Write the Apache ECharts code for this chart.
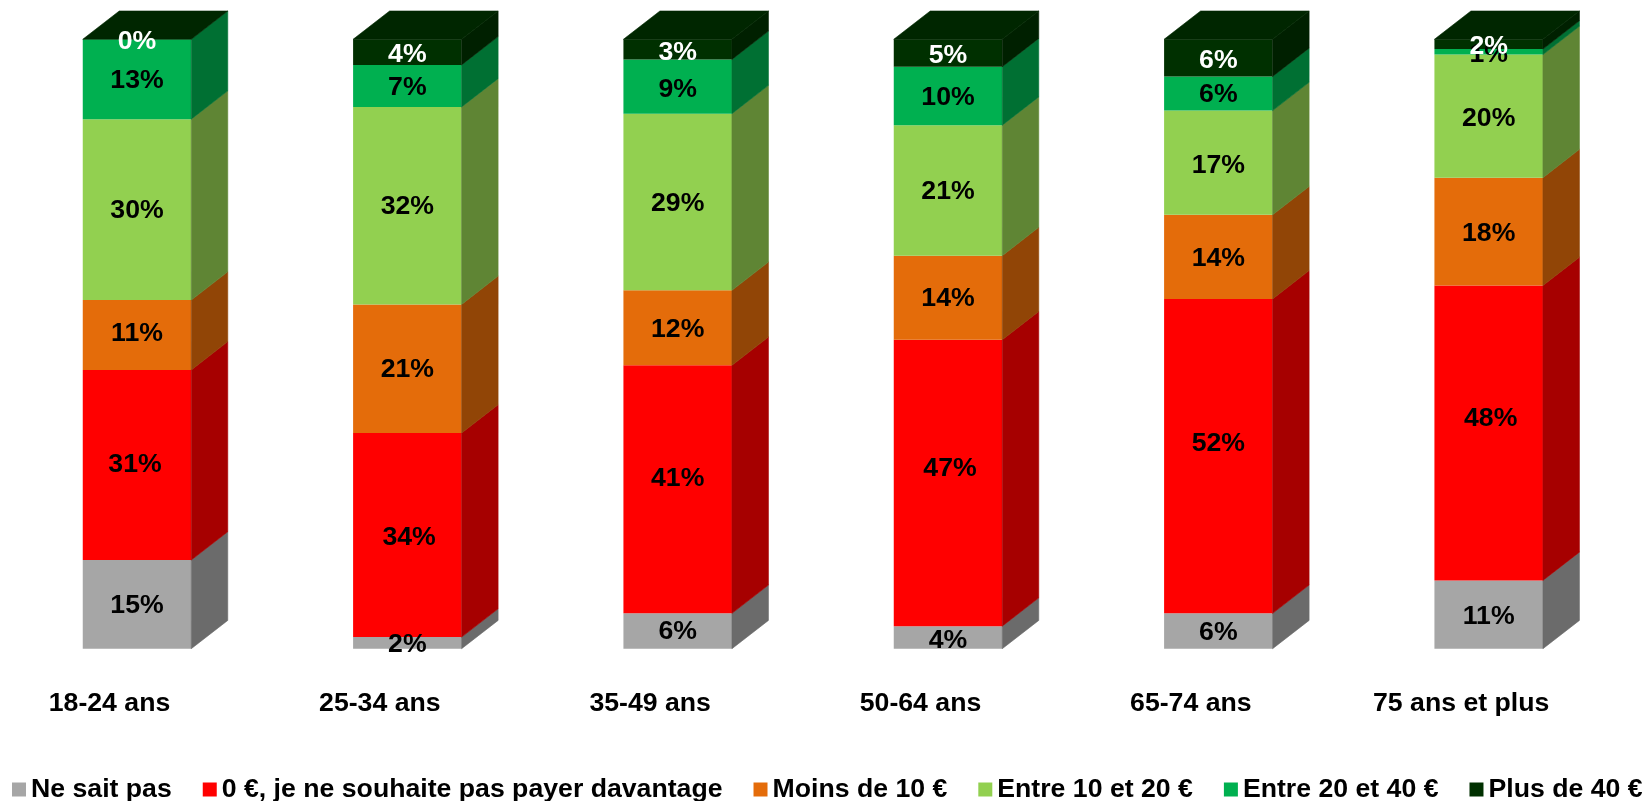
<!DOCTYPE html>
<html>
<head>
<meta charset="utf-8">
<style>html,body{margin:0;padding:0;background:#fff}#chart{width:1645px;height:801px}</style>
<script src="https://cdn.jsdelivr.net/npm/echarts@6/dist/echarts.min.js"></script>
</head>
<body>
<div id="chart"></div>
<script>
const categories = ['18-24 ans','25-34 ans','35-49 ans','50-64 ans','65-74 ans','75 ans et plus'];
const seriesNames = ['Ne sait pas','0 €, je ne souhaite pas payer davantage','Moins de 10 €','Entre 10 et 20 €','Entre 20 et 40 €','Plus de 40 €'];
const neSaitPas = [14.55, 1.9, 5.8, 3.7, 5.8, 11.2];
const zeroEuro  = [31.2, 33.5, 40.7, 47.0, 51.6, 48.4];
const moins10   = [11.45, 21.1, 12.3, 13.8, 13.8, 17.7];
const e10a20    = [29.7, 32.4, 29.0, 21.4, 17.1, 20.2];
const e20a40    = [13.1, 6.9, 8.9, 9.6, 5.6, 0.9];
const plus40    = [0, 4.2, 3.3, 4.5, 6.1, 1.6];
const seriesValues = [neSaitPas, zeroEuro, moins10, e10a20, e20a40, plus40];
const frontColors = ['#A6A6A6','#FF0000','#E46C0A','#92D050','#00B050','#003000'];
const sideColors  = ['#6B6B6B','#A60000','#914506','#5F8534','#007033','#002000'];
const topColor = '#002600';
const labelColors = ['#000','#000','#000','#000','#000','#fff'];
const FONT = '"Liberation Sans", Arial, sans-serif';
const DX = 36.5, DY = 28.3, BAR_RATIO = 0.4014;
// The original's data labels were hand-placed: pixel nudges per series, per category.
const labelNudgeY = [
  [0.9, 1.4, 0.5, 3.6, 1.3, 1.7],
  [0, 2.7, -11, -14, -12.8, -14.3],
  [-1, 0.6, 1.5, 1.2, 1.4, 1.7],
  [1.4, 1.3, 1.7, 1.6, 2.6, 2.2],
  [1.8, 1.8, 2.8, 2, 1.5, 2.5],
  [2.7, 2.2, 2.9, 2.3, 2.4, 2.8]
];
const labelNudgeX = [
  [0, 0, 0, 0, 0, 0],
  [-2, 1.8, 0, 2, 0, 2],
  [0, 0, 0, 0, 0, 0],
  [0, 0, 0, 0, 0, 0],
  [0, 0, 0, 0, 0, 0],
  [0, 0, 0, 0, 0, 0]
];

function renderBar(s) {
  return function (params, api) {
    const cat = api.value(0), lo = api.value(1), hi = api.value(2), value = api.value(3);
    const pLo = api.coord([cat, lo]), pHi = api.coord([cat, hi]);
    const w = api.size([1, 0])[0] * BAR_RATIO;
    const x0 = pLo[0] - w / 2, x1 = x0 + w;
    const children = [];
    if (value > 0) {
      children.push(
        { type: 'rect', shape: { x: x0, y: pHi[1], width: w, height: pLo[1] - pHi[1] }, style: { fill: frontColors[s], stroke: 'none', lineWidth: 0 } },
        { type: 'polygon', shape: { points: [[x1, pLo[1]], [x1 + DX, pLo[1] - DY], [x1 + DX, pHi[1] - DY], [x1, pHi[1]]] }, style: { fill: sideColors[s], stroke: sideColors[s], lineWidth: 0.6 } }
      );
    }
    if (s === seriesValues.length - 1) {
      children.push({ type: 'polygon', shape: { points: [[x0, pHi[1]], [x1, pHi[1]], [x1 + DX, pHi[1] - DY], [x0 + DX, pHi[1] - DY]] }, style: { fill: topColor, stroke: topColor, lineWidth: 0.6 } });
    }
    children.push({
      type: 'text', z2: 100 + s,
      style: { x: pLo[0] + labelNudgeX[s][cat], y: (pLo[1] + pHi[1]) / 2 + labelNudgeY[s][cat], text: Math.round(value) + '%', fill: labelColors[s],
               font: 'bold 26.67px ' + FONT, align: 'center', verticalAlign: 'middle' }
    });
    return { type: 'group', children };
  };
}

const series = seriesValues.map((vals, s) => ({
  type: 'custom',
  name: seriesNames[s],
  renderItem: renderBar(s),
  itemStyle: { color: frontColors[s] },
  encode: { x: 0, y: [1, 2] },
  data: vals.map((v, i) => {
    let base = 0;
    for (let k = 0; k < s; k++) base += seriesValues[k][i];
    return [i, base, base + v, v];
  })
}));

const chart = echarts.init(document.getElementById('chart'));
chart.setOption({
  animation: false,
  backgroundColor: '#fff',
  grid: { left: 1.85, width: 1622, top: 39.3, height: 609.4 },
  xAxis: {
    type: 'category', data: categories,
    axisLine: { show: false }, axisTick: { show: false },
    axisLabel: { color: '#000', fontFamily: FONT, fontWeight: 'bold', fontSize: 26.67, margin: 41, padding: [0, 55, 0, 0], interval: 0 }
  },
  yAxis: { type: 'value', min: 0, max: 100, show: false },
  legend: {
    left: 12, top: 776, padding: 0, icon: 'rect', itemWidth: 14, itemHeight: 14, itemGap: 31,
    data: seriesNames,
    textStyle: { color: '#000', fontFamily: FONT, fontWeight: 'bold', fontSize: 26.67 },
    selectedMode: false
  },
  series
});
</script>
</body>
</html>
